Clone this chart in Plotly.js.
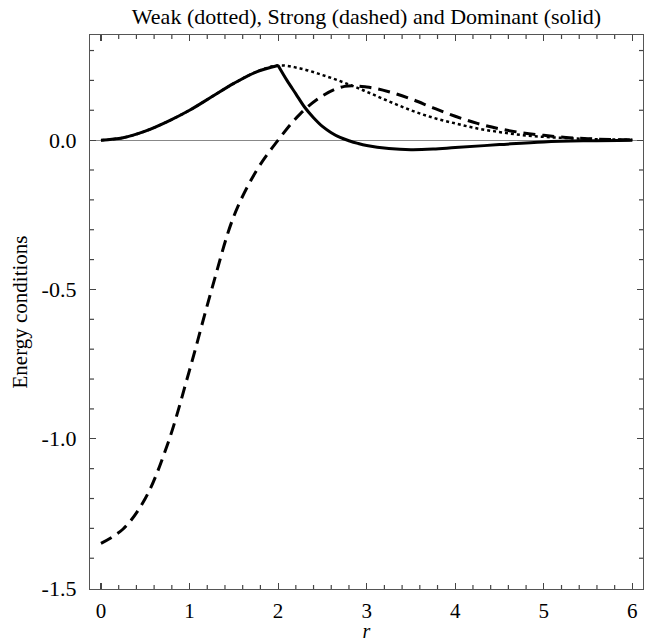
<!DOCTYPE html>
<html>
<head>
<meta charset="utf-8">
<script src="https://cdn.plot.ly/plotly-3.0.1.min.js"></script>
<style>html,body{margin:0;padding:0;background:#fff;}#chart{width:656px;height:642px;}</style>
</head>
<body>
<div id="chart"></div>
<script>
// r grid for the weak and strong conditions
const r = [0, 0.25, 0.5, 0.75, 1, 1.25, 1.5, 1.75, 2, 2.25, 2.5, 2.75, 3, 3.25, 3.5, 3.75, 4, 4.25, 4.5, 4.75, 5, 5.25, 5.5, 5.75, 6];
// Weak energy condition (dotted)
const weak = [0, 0.008, 0.03, 0.062, 0.10, 0.145, 0.19, 0.228, 0.25, 0.24, 0.218, 0.192, 0.162, 0.130, 0.100, 0.075, 0.056, 0.039, 0.027, 0.017, 0.011, 0.007, 0.004, 0.002, 0.001];
// Strong energy condition (dashed)
const strong = [-1.35, -1.302, -1.20, -1.02, -0.77, -0.50, -0.255, -0.105, 0.0, 0.088, 0.148, 0.18, 0.178, 0.162, 0.138, 0.108, 0.08, 0.056, 0.038, 0.025, 0.016, 0.009, 0.005, 0.002, 0.001];
// Dominant energy condition (solid), rising part
const rDomRise = [0, 0.25, 0.5, 0.75, 1, 1.25, 1.5, 1.75, 2];
const domRise = [0, 0.008, 0.03, 0.062, 0.10, 0.145, 0.19, 0.228, 0.25];
// Dominant energy condition (solid), falling part
const rDomFall = [2, 2.1, 2.2, 2.3, 2.4, 2.5, 2.6, 2.7, 2.8, 2.9, 3.0, 3.25, 3.5, 3.75, 4, 4.5, 5, 5.5, 6];
const domFall = [0.25, 0.20, 0.155, 0.11, 0.075, 0.046, 0.025, 0.009, -0.002, -0.011, -0.018, -0.028, -0.032, -0.030, -0.025, -0.015, -0.006, -0.002, 0];
// Tick labels
const xTicks = [0, 1, 2, 3, 4, 5, 6];
const yTicks = [-1.5, -1.0, -0.5, 0.0];
const yTickText = ['-1.5', '-1.0', '-0.5', '0.0'];

const xRange = [-0.124, 6.12];
const yRange = [-1.503, 0.352];
const font = 'Liberation Serif, Times New Roman, serif';
const tickColor = '#444';
const traces = [
  {x: r, y: weak, mode: 'lines', line: {color: 'black', width: 2.5, dash: '3px,3px', shape: 'spline', smoothing: 1}, hoverinfo: 'skip'},
  {x: r, y: strong, mode: 'lines', line: {color: 'black', width: 3, dash: '12px,7px', shape: 'spline', smoothing: 1}, hoverinfo: 'skip'},
  {x: rDomRise, y: domRise, mode: 'lines', line: {color: 'black', width: 3, shape: 'spline', smoothing: 1}, hoverinfo: 'skip'},
  {x: rDomFall, y: domFall, mode: 'lines', line: {color: 'black', width: 3, shape: 'spline', smoothing: 1}, hoverinfo: 'skip'}
];
const axisCommon = {
  showgrid: false, showline: true, linecolor: '#555', linewidth: 1.2, mirror: 'ticks',
  ticks: 'inside', ticklen: 6, tickwidth: 1.2, tickcolor: tickColor,
  tickfont: {family: font, size: 22, color: 'black'}
};
const layout = {
  width: 656, height: 642, showlegend: false,
  paper_bgcolor: 'white', plot_bgcolor: 'white',
  margin: {l: 90, r: 13, t: 35, b: 53},
  title: {text: 'Weak (dotted), Strong (dashed) and Dominant (solid)', font: {family: font, size: 22, color: 'black'}, x: 0.5, xanchor: 'center', xref: 'paper', y: 0.975, yref: 'container', yanchor: 'middle'},
  xaxis: Object.assign({}, axisCommon, {
    range: xRange, tickmode: 'array', tickvals: xTicks, zeroline: false,
    tickfont: {family: font, size: 21, color: 'black'},
    ticklabelstandoff: 3,
    title: {text: '<i>r</i>', font: {family: font, size: 20, color: 'black'}, standoff: 7}
  }),
  yaxis: Object.assign({}, axisCommon, {
    range: yRange, tickmode: 'array', tickvals: yTicks, ticktext: yTickText,
    zeroline: true, zerolinecolor: '#888', zerolinewidth: 1,
    ticklabelstandoff: 8,
    title: {text: 'Energy conditions', font: {family: font, size: 21, color: 'black'}, standoff: 8}
  }),
  shapes: []
};
// minor ticks drawn as short lines along the frame (positions in data units, placed by the axes)
const xMinor = [];
for (let i = 0; i <= 30; i++) { const v = +(i * 0.2).toFixed(1); if (Math.abs(v - Math.round(v)) > 1e-6) xMinor.push(v); }
const yMinor = [];
for (let i = -15; i <= 3; i++) { const v = +(i * 0.1).toFixed(1); if (Math.abs(v * 2 - Math.round(v * 2)) > 1e-6) yMinor.push(v); }
const tickLen = 4;
const plotW = 656 - 90 - 13, plotH = 642 - 35 - 53;
const dyPaper = tickLen / plotH, dxPaper = tickLen / plotW;
xMinor.forEach(v => {
  layout.shapes.push({type: 'line', xref: 'x', yref: 'paper', x0: v, x1: v, y0: 0, y1: dyPaper, line: {color: tickColor, width: 1.2}});
  layout.shapes.push({type: 'line', xref: 'x', yref: 'paper', x0: v, x1: v, y0: 1, y1: 1 - dyPaper, line: {color: tickColor, width: 1.2}});
});
yMinor.forEach(v => {
  layout.shapes.push({type: 'line', xref: 'paper', yref: 'y', x0: 0, x1: dxPaper, y0: v, y1: v, line: {color: tickColor, width: 1.2}});
  layout.shapes.push({type: 'line', xref: 'paper', yref: 'y', x0: 1, x1: 1 - dxPaper, y0: v, y1: v, line: {color: tickColor, width: 1.2}});
});
Plotly.newPlot('chart', traces, layout, {staticPlot: true});
</script>
</body>
</html>
